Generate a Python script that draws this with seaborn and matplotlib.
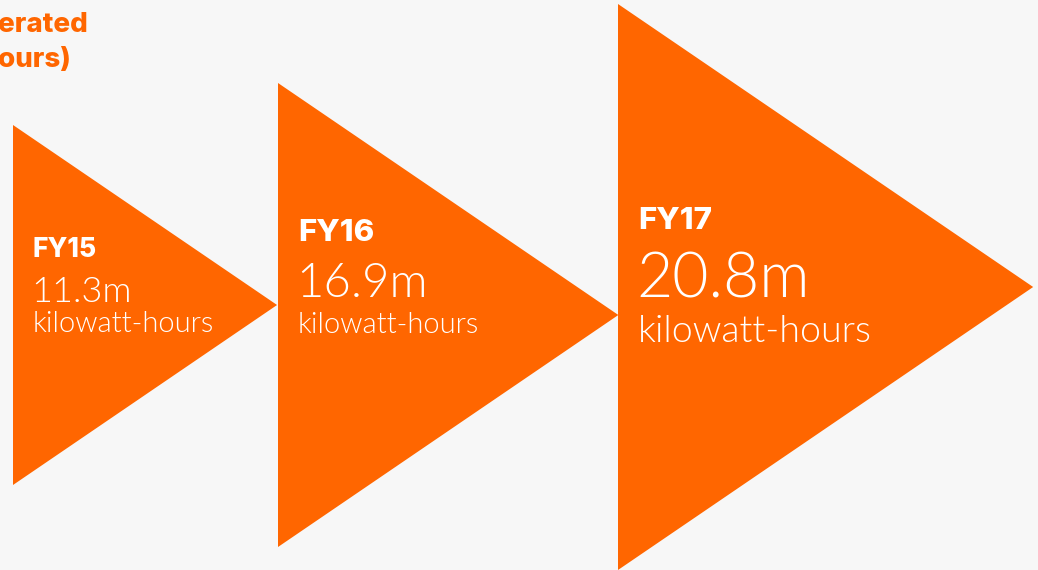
import matplotlib.pyplot as plt
import seaborn as sns

# data
years = ["FY15", "FY16", "FY17"]
values = [11.3, 16.9, 20.8]
unit = "kilowatt-hours"
title_lines = ["erated", "ours)"]

# layout (pixel space)
left_x = [13, 278, 618]
center_y = [305, 315, 287]
half_h = [180, 232, 283]
aspect = 1.467
year_size = [19, 22.5, 22.5]
value_size = [26, 34, 45]
unit_size = [21, 21, 27]
year_base = [257, 241, 229]
value_base = [302, 297, 298]
unit_base = [332, 333, 342]
text_pad = 20

orange = "#ff6600"
bg = "#f7f7f7"

sns.set_theme(style="white", rc={"figure.facecolor": bg, "axes.facecolor": bg})
plt.rcParams['font.family'] = ['Lato', 'DejaVu Sans']

fig = plt.figure(figsize=(10.38, 5.70), dpi=100)
ax = fig.add_axes([0, 0, 1, 1])
ax.set_xlim(0, 1038)
ax.set_ylim(570, 0)
ax.axis("off")

for i, yr in enumerate(years):
    x0, cy, h = left_x[i], center_y[i], half_h[i]
    xs = [x0, x0 + aspect * h, x0]
    ys = [cy - h, cy, cy + h]
    ax.fill(xs, ys, color=orange, lw=0)
    tx = x0 + text_pad
    ax.text(tx, year_base[i], yr, color="white", fontsize=year_size[i],
            family="Inter", fontweight=800, va="baseline", ha="left")
    ax.text(tx - 2, value_base[i], f"{values[i]}m", color="white",
            fontsize=value_size[i], fontweight=300, va="baseline", ha="left")
    ax.text(tx, unit_base[i], unit, color="white", fontsize=unit_size[i],
            fontweight=300, va="baseline", ha="left")

for line, base in zip(title_lines, [32, 67]):
    ax.text(-2, base, line, color=orange, fontsize=20, family="Inter",
            fontweight=800, va="baseline", ha="left")

fig.savefig("out.png", dpi=100, facecolor=bg)
